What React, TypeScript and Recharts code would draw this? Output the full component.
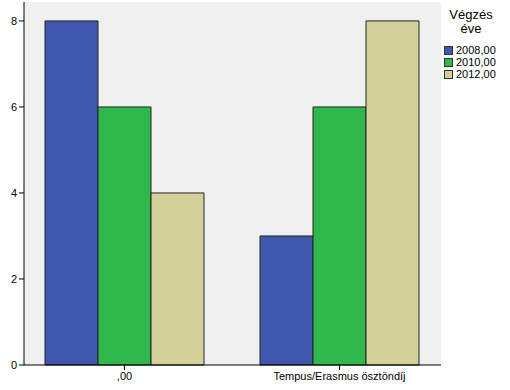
import React from "react";
import { BarChart, Bar, XAxis, YAxis, CartesianGrid } from "recharts";

const categories = [",00", "Tempus/Erasmus ösztöndíj"];
const seriesNames = ["2008,00", "2010,00", "2012,00"];
const values2008 = [8, 3];
const values2010 = [6, 6];
const values2012 = [4, 8];
const seriesColors = ["#3f58ab", "#2fb84c", "#d4d09a"];
const yTicks = [0, 2, 4, 6, 8];
const legendTitle = ["Végzés", "éve"];

const seriesKeys = ["s2008", "s2010", "s2012"];

const data = categories.map((name, i) => ({
  name,
  s2008: values2008[i],
  s2010: values2010[i],
  s2012: values2012[i],
}));

const font = "Arial, 'Liberation Sans', sans-serif";

const ChartLegend: React.FC = () => (
  <div
    style={{
      position: "absolute",
      left: 444,
      top: 8,
      width: 54,
      fontFamily: font,
      color: "#000",
    }}
  >
    <div style={{ textAlign: "center", fontSize: 13, lineHeight: "14px" }}>
      {legendTitle.map((t) => (
        <div key={t}>{t}</div>
      ))}
    </div>
    <div style={{ marginTop: 8 }}>
      {seriesNames.map((s, i) => (
        <div
          key={s}
          style={{ display: "flex", alignItems: "center", height: 12, fontSize: 11 }}
        >
          <span
            style={{
              display: "inline-block",
              boxSizing: "border-box",
              width: 9,
              height: 9,
              background: seriesColors[i],
              border: "1px solid #333",
              marginRight: 3,
            }}
          />
          {s}
        </div>
      ))}
    </div>
  </div>
);

export default function App() {
  return (
    <div style={{ position: "fixed", left: 0, top: 0, width: 510, height: 390, background: "#fff" }}>
      <BarChart
        width={510}
        height={390}
        data={data}
        margin={{ top: 2, right: 69, bottom: 0, left: 0 }}
        barCategoryGap={28}
        barGap={0}
      >
        <CartesianGrid fill="#f0f0f0" horizontal={false} vertical={false} />
        <XAxis
          dataKey="name"
          height={25}
          padding={{ left: -7, right: -6 }}
          axisLine={{ stroke: "#000" }}
          tickLine={{ stroke: "#000" }}
          tickSize={5}
          tick={{ fontSize: 11, fill: "#000", fontFamily: font }}
        />
        <XAxis
          xAxisId="top"
          dataKey="name"
          orientation="top"
          height={0}
          tick={false}
          tickLine={false}
          axisLine={{ stroke: "#8c8c8c" }}
        />
        <YAxis
          width={24}
          domain={[0, 8.44]}
          ticks={yTicks}
          axisLine={{ stroke: "#000" }}
          tickLine={{ stroke: "#000" }}
          tickSize={5}
          tick={{ fontSize: 11, fill: "#000", fontFamily: font }}
        />
        <YAxis
          yAxisId="right"
          orientation="right"
          width={0}
          tick={false}
          tickLine={false}
          axisLine={{ stroke: "#8c8c8c" }}
        />
        {seriesKeys.map((k, i) => (
          <Bar
            key={k}
            dataKey={k}
            name={seriesNames[i]}
            fill={seriesColors[i]}
            stroke="#222"
            strokeWidth={1}
            isAnimationActive={false}
          />
        ))}
      </BarChart>
      <ChartLegend />
    </div>
  );
}
